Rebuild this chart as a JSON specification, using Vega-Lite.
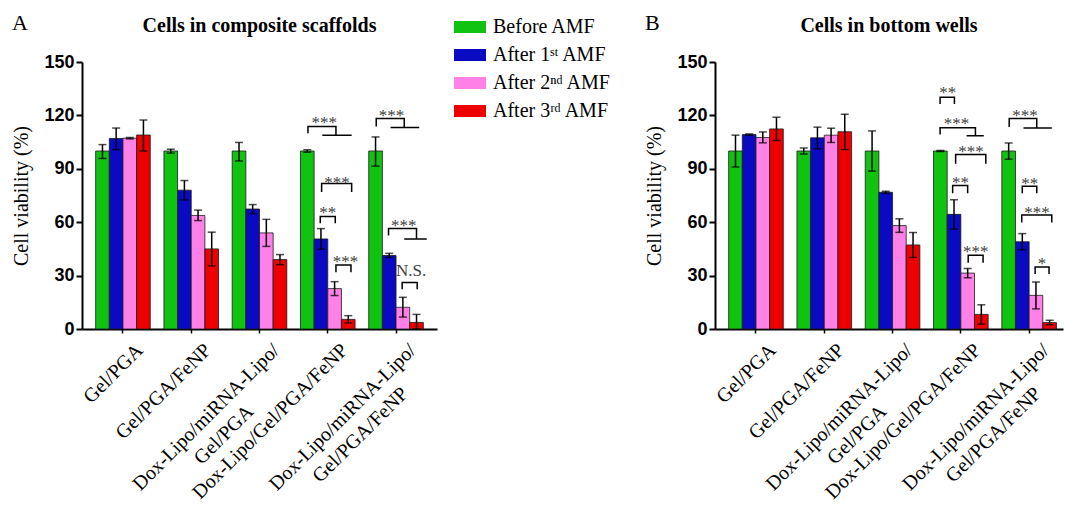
{
  "$schema": "https://vega.github.io/schema/vega-lite/v6.json",
  "padding": {"left": 11, "top": 11, "right": 0, "bottom": 0},
  "background": "white",
  "config": {
    "view": {"stroke": null},
    "font": "Liberation Serif",
    "scale": {"offsetBandPaddingInner": 0, "offsetBandPaddingOuter": 0},
    "axis": {"domainColor": "black", "tickColor": "black", "labelColor": "black", "titleColor": "black", "grid": false}
  },
  "datasets": {
    "barsA": [
      {"grp": "Gel/PGA", "cond": "Before AMF", "v": 100, "lo": 95.8, "hi": 103.6},
      {"grp": "Gel/PGA", "cond": "After 1ˢᵗ AMF", "v": 107, "lo": 100.8, "hi": 112.9},
      {"grp": "Gel/PGA", "cond": "After 2ⁿᵈ AMF", "v": 107.2, "lo": 106.8, "hi": 107.6},
      {"grp": "Gel/PGA", "cond": "After 3ʳᵈ AMF", "v": 109, "lo": 100, "hi": 117.4},
      {"grp": "Gel/PGA/FeNP", "cond": "Before AMF", "v": 100, "lo": 98.8, "hi": 101},
      {"grp": "Gel/PGA/FeNP", "cond": "After 1ˢᵗ AMF", "v": 78, "lo": 72.5, "hi": 83.4},
      {"grp": "Gel/PGA/FeNP", "cond": "After 2ⁿᵈ AMF", "v": 63.8, "lo": 60.9, "hi": 66.8},
      {"grp": "Gel/PGA/FeNP", "cond": "After 3ʳᵈ AMF", "v": 45, "lo": 35.4, "hi": 54.4},
      {"grp": "Dox-Lipo/miRNA-Lipo/|Gel/PGA", "cond": "Before AMF", "v": 100, "lo": 94.4, "hi": 104.8},
      {"grp": "Dox-Lipo/miRNA-Lipo/|Gel/PGA", "cond": "After 1ˢᵗ AMF", "v": 67.4, "lo": 64.8, "hi": 69.9},
      {"grp": "Dox-Lipo/miRNA-Lipo/|Gel/PGA", "cond": "After 2ⁿᵈ AMF", "v": 54, "lo": 46.4, "hi": 61.6},
      {"grp": "Dox-Lipo/miRNA-Lipo/|Gel/PGA", "cond": "After 3ʳᵈ AMF", "v": 39, "lo": 36.1, "hi": 41.8},
      {"grp": "Dox-Lipo/Gel/PGA/FeNP", "cond": "Before AMF", "v": 100, "lo": 99.3, "hi": 100.7},
      {"grp": "Dox-Lipo/Gel/PGA/FeNP", "cond": "After 1ˢᵗ AMF", "v": 50.6, "lo": 44.8, "hi": 56.4},
      {"grp": "Dox-Lipo/Gel/PGA/FeNP", "cond": "After 2ⁿᵈ AMF", "v": 22.7, "lo": 18.8, "hi": 26.6},
      {"grp": "Dox-Lipo/Gel/PGA/FeNP", "cond": "After 3ʳᵈ AMF", "v": 5.4, "lo": 3.4, "hi": 7.5},
      {"grp": "Dox-Lipo/miRNA-Lipo/|Gel/PGA/FeNP", "cond": "Before AMF", "v": 100, "lo": 91.5, "hi": 107.9},
      {"grp": "Dox-Lipo/miRNA-Lipo/|Gel/PGA/FeNP", "cond": "After 1ˢᵗ AMF", "v": 41.3, "lo": 40.2, "hi": 42.5},
      {"grp": "Dox-Lipo/miRNA-Lipo/|Gel/PGA/FeNP", "cond": "After 2ⁿᵈ AMF", "v": 12.2, "lo": 6.7, "hi": 17.8},
      {"grp": "Dox-Lipo/miRNA-Lipo/|Gel/PGA/FeNP", "cond": "After 3ʳᵈ AMF", "v": 3.7, "lo": 0, "hi": 8.2}
    ],
    "barsB": [
      {"grp": "Gel/PGA", "cond": "Before AMF", "v": 100, "lo": 91, "hi": 108.9},
      {"grp": "Gel/PGA", "cond": "After 1ˢᵗ AMF", "v": 109.2, "lo": 108.8, "hi": 109.6},
      {"grp": "Gel/PGA", "cond": "After 2ⁿᵈ AMF", "v": 107.6, "lo": 104.6, "hi": 110.7},
      {"grp": "Gel/PGA", "cond": "After 3ʳᵈ AMF", "v": 112.4, "lo": 105.9, "hi": 118.9},
      {"grp": "Gel/PGA/FeNP", "cond": "Before AMF", "v": 100, "lo": 98.3, "hi": 101.7},
      {"grp": "Gel/PGA/FeNP", "cond": "After 1ˢᵗ AMF", "v": 107.4, "lo": 101.2, "hi": 113.4},
      {"grp": "Gel/PGA/FeNP", "cond": "After 2ⁿᵈ AMF", "v": 108.9, "lo": 104.8, "hi": 112.8},
      {"grp": "Gel/PGA/FeNP", "cond": "After 3ʳᵈ AMF", "v": 110.8, "lo": 100.9, "hi": 120.6},
      {"grp": "Dox-Lipo/miRNA-Lipo/|Gel/PGA", "cond": "Before AMF", "v": 100, "lo": 88.7, "hi": 111.3},
      {"grp": "Dox-Lipo/miRNA-Lipo/|Gel/PGA", "cond": "After 1ˢᵗ AMF", "v": 76.8, "lo": 76.2, "hi": 77.4},
      {"grp": "Dox-Lipo/miRNA-Lipo/|Gel/PGA", "cond": "After 2ⁿᵈ AMF", "v": 58.1, "lo": 54.3, "hi": 61.9},
      {"grp": "Dox-Lipo/miRNA-Lipo/|Gel/PGA", "cond": "After 3ʳᵈ AMF", "v": 47.2, "lo": 40.2, "hi": 54.2},
      {"grp": "Dox-Lipo/Gel/PGA/FeNP", "cond": "Before AMF", "v": 100, "lo": 99.7, "hi": 100.3},
      {"grp": "Dox-Lipo/Gel/PGA/FeNP", "cond": "After 1ˢᵗ AMF", "v": 64.4, "lo": 56.1, "hi": 72.6},
      {"grp": "Dox-Lipo/Gel/PGA/FeNP", "cond": "After 2ⁿᵈ AMF", "v": 31.4, "lo": 28.8, "hi": 34},
      {"grp": "Dox-Lipo/Gel/PGA/FeNP", "cond": "After 3ʳᵈ AMF", "v": 8.2, "lo": 2.7, "hi": 13.6},
      {"grp": "Dox-Lipo/miRNA-Lipo/|Gel/PGA/FeNP", "cond": "Before AMF", "v": 100, "lo": 95.4, "hi": 104.5},
      {"grp": "Dox-Lipo/miRNA-Lipo/|Gel/PGA/FeNP", "cond": "After 1ˢᵗ AMF", "v": 49, "lo": 44.5, "hi": 53.6},
      {"grp": "Dox-Lipo/miRNA-Lipo/|Gel/PGA/FeNP", "cond": "After 2ⁿᵈ AMF", "v": 18.9, "lo": 11.3, "hi": 26.4},
      {"grp": "Dox-Lipo/miRNA-Lipo/|Gel/PGA/FeNP", "cond": "After 3ʳᵈ AMF", "v": 3.6, "lo": 2.4, "hi": 4.9}
    ],
    "brA": [
      {"id": "a4a", "grp": "Dox-Lipo/Gel/PGA/FeNP", "pos": 0.55, "y": 110, "k": 0},
      {"id": "a4a", "grp": "Dox-Lipo/Gel/PGA/FeNP", "pos": 0.55, "y": 113.8, "k": 1},
      {"id": "a4a", "grp": "Dox-Lipo/Gel/PGA/FeNP", "pos": 2.6, "y": 113.8, "k": 2},
      {"id": "a4a", "grp": "Dox-Lipo/Gel/PGA/FeNP", "pos": 2.6, "y": 108.8, "k": 3},
      {"id": "a4a", "grp": "Dox-Lipo/Gel/PGA/FeNP", "pos": 1.6, "y": 108.8, "k": 4},
      {"id": "a4a", "grp": "Dox-Lipo/Gel/PGA/FeNP", "pos": 3.75, "y": 108.8, "k": 5},
      {"id": "a4b", "grp": "Dox-Lipo/Gel/PGA/FeNP", "pos": 1.55, "y": 76.9, "k": 0},
      {"id": "a4b", "grp": "Dox-Lipo/Gel/PGA/FeNP", "pos": 1.55, "y": 81.8, "k": 1},
      {"id": "a4b", "grp": "Dox-Lipo/Gel/PGA/FeNP", "pos": 3.75, "y": 81.8, "k": 2},
      {"id": "a4b", "grp": "Dox-Lipo/Gel/PGA/FeNP", "pos": 3.75, "y": 76.9, "k": 3},
      {"id": "a4c", "grp": "Dox-Lipo/Gel/PGA/FeNP", "pos": 1.45, "y": 59.4, "k": 0},
      {"id": "a4c", "grp": "Dox-Lipo/Gel/PGA/FeNP", "pos": 1.45, "y": 63.2, "k": 1},
      {"id": "a4c", "grp": "Dox-Lipo/Gel/PGA/FeNP", "pos": 2.55, "y": 63.2, "k": 2},
      {"id": "a4c", "grp": "Dox-Lipo/Gel/PGA/FeNP", "pos": 2.55, "y": 59.4, "k": 3},
      {"id": "a4d", "grp": "Dox-Lipo/Gel/PGA/FeNP", "pos": 2.6, "y": 31.9, "k": 0},
      {"id": "a4d", "grp": "Dox-Lipo/Gel/PGA/FeNP", "pos": 2.6, "y": 36, "k": 1},
      {"id": "a4d", "grp": "Dox-Lipo/Gel/PGA/FeNP", "pos": 3.7, "y": 36, "k": 2},
      {"id": "a4d", "grp": "Dox-Lipo/Gel/PGA/FeNP", "pos": 3.7, "y": 31.9, "k": 3},
      {"id": "a5a", "grp": "Dox-Lipo/miRNA-Lipo/|Gel/PGA/FeNP", "pos": 0.55, "y": 113.8, "k": 0},
      {"id": "a5a", "grp": "Dox-Lipo/miRNA-Lipo/|Gel/PGA/FeNP", "pos": 0.55, "y": 118.3, "k": 1},
      {"id": "a5a", "grp": "Dox-Lipo/miRNA-Lipo/|Gel/PGA/FeNP", "pos": 2.6, "y": 118.3, "k": 2},
      {"id": "a5a", "grp": "Dox-Lipo/miRNA-Lipo/|Gel/PGA/FeNP", "pos": 2.6, "y": 113.2, "k": 3},
      {"id": "a5a", "grp": "Dox-Lipo/miRNA-Lipo/|Gel/PGA/FeNP", "pos": 1.6, "y": 113.2, "k": 4},
      {"id": "a5a", "grp": "Dox-Lipo/miRNA-Lipo/|Gel/PGA/FeNP", "pos": 3.7, "y": 113.2, "k": 5},
      {"id": "a5b", "grp": "Dox-Lipo/miRNA-Lipo/|Gel/PGA/FeNP", "pos": 1.45, "y": 52.5, "k": 0},
      {"id": "a5b", "grp": "Dox-Lipo/miRNA-Lipo/|Gel/PGA/FeNP", "pos": 1.45, "y": 56.4, "k": 1},
      {"id": "a5b", "grp": "Dox-Lipo/miRNA-Lipo/|Gel/PGA/FeNP", "pos": 3.5, "y": 56.4, "k": 2},
      {"id": "a5b", "grp": "Dox-Lipo/miRNA-Lipo/|Gel/PGA/FeNP", "pos": 3.5, "y": 50.6, "k": 3},
      {"id": "a5b", "grp": "Dox-Lipo/miRNA-Lipo/|Gel/PGA/FeNP", "pos": 2.6, "y": 50.6, "k": 4},
      {"id": "a5b", "grp": "Dox-Lipo/miRNA-Lipo/|Gel/PGA/FeNP", "pos": 4.25, "y": 50.6, "k": 5},
      {"id": "a5c", "grp": "Dox-Lipo/miRNA-Lipo/|Gel/PGA/FeNP", "pos": 2.45, "y": 22.3, "k": 0},
      {"id": "a5c", "grp": "Dox-Lipo/miRNA-Lipo/|Gel/PGA/FeNP", "pos": 2.45, "y": 26.1, "k": 1},
      {"id": "a5c", "grp": "Dox-Lipo/miRNA-Lipo/|Gel/PGA/FeNP", "pos": 3.55, "y": 26.1, "k": 2},
      {"id": "a5c", "grp": "Dox-Lipo/miRNA-Lipo/|Gel/PGA/FeNP", "pos": 3.55, "y": 22.3, "k": 3}
    ],
    "txA": [
      {"grp": "Dox-Lipo/Gel/PGA/FeNP", "pos": 1.75, "y": 117.2, "t": "***"},
      {"grp": "Dox-Lipo/Gel/PGA/FeNP", "pos": 2.68, "y": 83.8, "t": "***"},
      {"grp": "Dox-Lipo/Gel/PGA/FeNP", "pos": 2.0, "y": 66.9, "t": "**"},
      {"grp": "Dox-Lipo/Gel/PGA/FeNP", "pos": 3.3, "y": 39.4, "t": "***"},
      {"grp": "Dox-Lipo/miRNA-Lipo/|Gel/PGA/FeNP", "pos": 1.66, "y": 121.3, "t": "***"},
      {"grp": "Dox-Lipo/miRNA-Lipo/|Gel/PGA/FeNP", "pos": 2.56, "y": 59.4, "t": "***"},
      {"grp": "Dox-Lipo/miRNA-Lipo/|Gel/PGA/FeNP", "pos": 3.1, "y": 34.5, "t": "N.S."}
    ],
    "brB": [
      {"id": "b4a", "grp": "Dox-Lipo/Gel/PGA/FeNP", "pos": 0.48, "y": 126.4, "k": 0},
      {"id": "b4a", "grp": "Dox-Lipo/Gel/PGA/FeNP", "pos": 0.48, "y": 130.2, "k": 1},
      {"id": "b4a", "grp": "Dox-Lipo/Gel/PGA/FeNP", "pos": 1.53, "y": 130.2, "k": 2},
      {"id": "b4a", "grp": "Dox-Lipo/Gel/PGA/FeNP", "pos": 1.53, "y": 126.4, "k": 3},
      {"id": "b4b", "grp": "Dox-Lipo/Gel/PGA/FeNP", "pos": 0.48, "y": 109.2, "k": 0},
      {"id": "b4b", "grp": "Dox-Lipo/Gel/PGA/FeNP", "pos": 0.48, "y": 113, "k": 1},
      {"id": "b4b", "grp": "Dox-Lipo/Gel/PGA/FeNP", "pos": 3.07, "y": 113, "k": 2},
      {"id": "b4b", "grp": "Dox-Lipo/Gel/PGA/FeNP", "pos": 3.07, "y": 108.5, "k": 3},
      {"id": "b4b", "grp": "Dox-Lipo/Gel/PGA/FeNP", "pos": 2.42, "y": 108.5, "k": 4},
      {"id": "b4b", "grp": "Dox-Lipo/Gel/PGA/FeNP", "pos": 3.68, "y": 108.5, "k": 5},
      {"id": "b4c", "grp": "Dox-Lipo/Gel/PGA/FeNP", "pos": 1.62, "y": 92.8, "k": 0},
      {"id": "b4c", "grp": "Dox-Lipo/Gel/PGA/FeNP", "pos": 1.62, "y": 98.1, "k": 1},
      {"id": "b4c", "grp": "Dox-Lipo/Gel/PGA/FeNP", "pos": 3.83, "y": 98.1, "k": 2},
      {"id": "b4c", "grp": "Dox-Lipo/Gel/PGA/FeNP", "pos": 3.83, "y": 92.8, "k": 3},
      {"id": "b4d", "grp": "Dox-Lipo/Gel/PGA/FeNP", "pos": 1.4, "y": 76.2, "k": 0},
      {"id": "b4d", "grp": "Dox-Lipo/Gel/PGA/FeNP", "pos": 1.4, "y": 80.6, "k": 1},
      {"id": "b4d", "grp": "Dox-Lipo/Gel/PGA/FeNP", "pos": 2.5, "y": 80.6, "k": 2},
      {"id": "b4d", "grp": "Dox-Lipo/Gel/PGA/FeNP", "pos": 2.5, "y": 76.2, "k": 3},
      {"id": "b4e", "grp": "Dox-Lipo/Gel/PGA/FeNP", "pos": 2.54, "y": 37.2, "k": 0},
      {"id": "b4e", "grp": "Dox-Lipo/Gel/PGA/FeNP", "pos": 2.54, "y": 41.5, "k": 1},
      {"id": "b4e", "grp": "Dox-Lipo/Gel/PGA/FeNP", "pos": 3.63, "y": 41.5, "k": 2},
      {"id": "b4e", "grp": "Dox-Lipo/Gel/PGA/FeNP", "pos": 3.63, "y": 37.2, "k": 3},
      {"id": "b5a", "grp": "Dox-Lipo/miRNA-Lipo/|Gel/PGA/FeNP", "pos": 0.54, "y": 113.5, "k": 0},
      {"id": "b5a", "grp": "Dox-Lipo/miRNA-Lipo/|Gel/PGA/FeNP", "pos": 0.54, "y": 118.2, "k": 1},
      {"id": "b5a", "grp": "Dox-Lipo/miRNA-Lipo/|Gel/PGA/FeNP", "pos": 2.56, "y": 118.2, "k": 2},
      {"id": "b5a", "grp": "Dox-Lipo/miRNA-Lipo/|Gel/PGA/FeNP", "pos": 2.56, "y": 112.9, "k": 3},
      {"id": "b5a", "grp": "Dox-Lipo/miRNA-Lipo/|Gel/PGA/FeNP", "pos": 1.59, "y": 112.9, "k": 4},
      {"id": "b5a", "grp": "Dox-Lipo/miRNA-Lipo/|Gel/PGA/FeNP", "pos": 3.66, "y": 112.9, "k": 5},
      {"id": "b5b", "grp": "Dox-Lipo/miRNA-Lipo/|Gel/PGA/FeNP", "pos": 1.5, "y": 76.2, "k": 0},
      {"id": "b5b", "grp": "Dox-Lipo/miRNA-Lipo/|Gel/PGA/FeNP", "pos": 1.5, "y": 80.2, "k": 1},
      {"id": "b5b", "grp": "Dox-Lipo/miRNA-Lipo/|Gel/PGA/FeNP", "pos": 2.56, "y": 80.2, "k": 2},
      {"id": "b5b", "grp": "Dox-Lipo/miRNA-Lipo/|Gel/PGA/FeNP", "pos": 2.56, "y": 76.2, "k": 3},
      {"id": "b5c", "grp": "Dox-Lipo/miRNA-Lipo/|Gel/PGA/FeNP", "pos": 1.46, "y": 59.8, "k": 0},
      {"id": "b5c", "grp": "Dox-Lipo/miRNA-Lipo/|Gel/PGA/FeNP", "pos": 1.46, "y": 64, "k": 1},
      {"id": "b5c", "grp": "Dox-Lipo/miRNA-Lipo/|Gel/PGA/FeNP", "pos": 3.66, "y": 64, "k": 2},
      {"id": "b5c", "grp": "Dox-Lipo/miRNA-Lipo/|Gel/PGA/FeNP", "pos": 3.66, "y": 59.8, "k": 3},
      {"id": "b5d", "grp": "Dox-Lipo/miRNA-Lipo/|Gel/PGA/FeNP", "pos": 2.44, "y": 30.9, "k": 0},
      {"id": "b5d", "grp": "Dox-Lipo/miRNA-Lipo/|Gel/PGA/FeNP", "pos": 2.44, "y": 34.9, "k": 1},
      {"id": "b5d", "grp": "Dox-Lipo/miRNA-Lipo/|Gel/PGA/FeNP", "pos": 3.46, "y": 34.9, "k": 2},
      {"id": "b5d", "grp": "Dox-Lipo/miRNA-Lipo/|Gel/PGA/FeNP", "pos": 3.46, "y": 30.9, "k": 3}
    ],
    "txB": [
      {"grp": "Dox-Lipo/Gel/PGA/FeNP", "pos": 1.05, "y": 134, "t": "**"},
      {"grp": "Dox-Lipo/Gel/PGA/FeNP", "pos": 1.69, "y": 117, "t": "***"},
      {"grp": "Dox-Lipo/Gel/PGA/FeNP", "pos": 2.74, "y": 101, "t": "***"},
      {"grp": "Dox-Lipo/Gel/PGA/FeNP", "pos": 1.98, "y": 83.8, "t": "**"},
      {"grp": "Dox-Lipo/Gel/PGA/FeNP", "pos": 3.1, "y": 44.7, "t": "***"},
      {"grp": "Dox-Lipo/miRNA-Lipo/|Gel/PGA/FeNP", "pos": 1.7, "y": 121.5, "t": "***"},
      {"grp": "Dox-Lipo/miRNA-Lipo/|Gel/PGA/FeNP", "pos": 2.05, "y": 83.4, "t": "**"},
      {"grp": "Dox-Lipo/miRNA-Lipo/|Gel/PGA/FeNP", "pos": 2.58, "y": 67, "t": "***"},
      {"grp": "Dox-Lipo/miRNA-Lipo/|Gel/PGA/FeNP", "pos": 2.95, "y": 38.1, "t": "*"}
    ]
  },
  "spacing": 207,
  "hconcat": [
    {
      "title": {"text": "A", "anchor": "start", "font": "Liberation Serif", "fontSize": 22, "fontWeight": "normal", "color": "black", "offset": -36, "baseline": "alphabetic"},
      "vconcat": [
        {
          "width": 355,
          "height": 267,
          "title": {"text": "Cells in composite scaffolds", "font": "Liberation Serif", "fontSize": 20, "fontWeight": "bold", "color": "black", "offset": 17},
          "layer": [
            {
              "data": {"name": "barsA"},
              "mark": {"type": "bar", "stroke": "#1a1a1a", "strokeWidth": 0.8},
              "encoding": {
                "x": {"field": "grp", "type": "nominal", "sort": null,
                  "scale": {"domain": ["Gel/PGA", "Gel/PGA/FeNP", "Dox-Lipo/miRNA-Lipo/|Gel/PGA", "Dox-Lipo/Gel/PGA/FeNP", "Dox-Lipo/miRNA-Lipo/|Gel/PGA/FeNP"], "paddingInner": 0.2, "paddingOuter": 0.2},
                  "axis": {"title": null, "domainWidth": 2, "tickWidth": 1.5, "tickSize": 4, "labelAngle": -45,
                    "labelExpr": "split(datum.value, '|')",
                    "labelAlign": {"condition": {"test": "indexof(datum.value, '|') >= 0", "value": "center"}, "value": "right"},
                    "labelOffset": {"condition": {"test": "indexof(datum.value, '|') >= 0", "value": -49}, "value": 21},
                    "labelPadding": {"condition": {"test": "indexof(datum.value, '|') >= 0", "value": 88}, "value": 18},
                    "labelBaseline": "alphabetic", "labelFont": "Liberation Serif", "labelFontSize": 20, "labelLineHeight": 25, "labelLimit": 400, "labelOverlap": false}},
                "xOffset": {"field": "cond", "type": "nominal", "sort": null},
                "y": {"field": "v", "type": "quantitative", "scale": {"domain": [0, 150], "nice": false},
                  "axis": {"values": [0, 30, 60, 90, 120, 150], "title": "Cell viability (%)", "titleFont": "Liberation Serif", "titleFontSize": 20, "titleFontWeight": "normal", "titlePadding": 12,
                    "labelFont": "Liberation Sans", "labelFontWeight": "bold", "labelFontSize": 18, "labelPadding": 2, "tickSize": 6, "tickWidth": 2, "domainWidth": 2}},
                "color": {"field": "cond", "type": "nominal",
                  "scale": {"domain": ["Before AMF", "After 1ˢᵗ AMF", "After 2ⁿᵈ AMF", "After 3ʳᵈ AMF"], "range": ["#10C310", "#0A0AC2", "#FF80E6", "#EE0000"]},
                  "legend": {"orient": "none", "legendX": 372, "legendY": -51, "title": null, "labelFont": "Liberation Serif", "labelFontSize": 20, "labelColor": "black", "symbolType": "M-1,-0.375H1V0.375H-1Z", "symbolSize": 1024, "symbolStrokeWidth": 0, "symbolOpacity": 1, "rowPadding": 2, "labelOffset": 7}}
              }
            },
            {
              "data": {"name": "barsA"},
              "mark": {"type": "rule", "color": "black", "strokeWidth": 1.5},
              "encoding": {
                "x": {"field": "grp", "type": "nominal", "sort": null},
                "xOffset": {"field": "cond", "type": "nominal", "sort": null},
                "y": {"field": "lo", "type": "quantitative"},
                "y2": {"field": "hi"}
              }
            },
            {
              "data": {"name": "barsA"},
              "mark": {"type": "tick", "color": "black", "thickness": 1.5, "size": 8},
              "encoding": {
                "x": {"field": "grp", "type": "nominal", "sort": null},
                "xOffset": {"field": "cond", "type": "nominal", "sort": null},
                "y": {"field": "lo", "type": "quantitative"}
              }
            },
            {
              "data": {"name": "barsA"},
              "mark": {"type": "tick", "color": "black", "thickness": 1.5, "size": 8},
              "encoding": {
                "x": {"field": "grp", "type": "nominal", "sort": null},
                "xOffset": {"field": "cond", "type": "nominal", "sort": null},
                "y": {"field": "hi", "type": "quantitative"}
              }
            },
            {
              "data": {"name": "brA"},
              "mark": {"type": "line", "color": "black", "strokeWidth": 1.5},
              "encoding": {
                "x": {"field": "grp", "type": "nominal", "sort": null},
                "xOffset": {"field": "pos", "type": "quantitative", "scale": {"domain": [0, 4], "range": [0, 54.6]}},
                "y": {"field": "y", "type": "quantitative"},
                "detail": {"field": "id"},
                "order": {"field": "k"}
              }
            },
            {
              "data": {"name": "txA"},
              "mark": {"type": "text", "font": "Liberation Serif", "fontSize": 17, "color": "#404040", "baseline": "middle", "dy": 3},
              "encoding": {
                "x": {"field": "grp", "type": "nominal", "sort": null},
                "xOffset": {"field": "pos", "type": "quantitative", "scale": {"domain": [0, 4], "range": [0, 54.6]}},
                "y": {"field": "y", "type": "quantitative"},
                "text": {"field": "t"}
              }
            }
          ],
          "resolve": {"scale": {"xOffset": "independent"}}
        }
      ]
    },
    {
      "title": {"text": "B", "anchor": "start", "font": "Liberation Serif", "fontSize": 22, "fontWeight": "normal", "color": "black", "offset": -36, "baseline": "alphabetic"},
      "vconcat": [
        {
          "width": 348,
          "height": 267,
          "title": {"text": "Cells in bottom wells", "font": "Liberation Serif", "fontSize": 20, "fontWeight": "bold", "color": "black", "offset": 17},
          "layer": [
            {
              "data": {"name": "barsB"},
              "mark": {"type": "bar", "stroke": "#1a1a1a", "strokeWidth": 0.8},
              "encoding": {
                "x": {"field": "grp", "type": "nominal", "sort": null,
                  "scale": {"domain": ["Gel/PGA", "Gel/PGA/FeNP", "Dox-Lipo/miRNA-Lipo/|Gel/PGA", "Dox-Lipo/Gel/PGA/FeNP", "Dox-Lipo/miRNA-Lipo/|Gel/PGA/FeNP"], "paddingInner": 0.2, "paddingOuter": 0.148, "align": 0.676},
                  "axis": {"title": null, "domainWidth": 2, "tickWidth": 1.5, "tickSize": 4, "labelAngle": -45,
                    "labelExpr": "split(datum.value, '|')",
                    "labelAlign": {"condition": {"test": "indexof(datum.value, '|') >= 0", "value": "center"}, "value": "right"},
                    "labelOffset": {"condition": {"test": "indexof(datum.value, '|') >= 0", "value": -49}, "value": 21},
                    "labelPadding": {"condition": {"test": "indexof(datum.value, '|') >= 0", "value": 88}, "value": 18},
                    "labelBaseline": "alphabetic", "labelFont": "Liberation Serif", "labelFontSize": 20, "labelLineHeight": 25, "labelLimit": 400, "labelOverlap": false}},
                "xOffset": {"field": "cond", "type": "nominal", "sort": null},
                "y": {"field": "v", "type": "quantitative", "scale": {"domain": [0, 150], "nice": false},
                  "axis": {"values": [0, 30, 60, 90, 120, 150], "title": "Cell viability (%)", "titleFont": "Liberation Serif", "titleFontSize": 20, "titleFontWeight": "normal", "titlePadding": 12,
                    "labelFont": "Liberation Sans", "labelFontWeight": "bold", "labelFontSize": 18, "labelPadding": 2, "tickSize": 6, "tickWidth": 2, "domainWidth": 2}},
                "color": {"field": "cond", "type": "nominal"}
              }
            },
            {
              "data": {"name": "barsB"},
              "mark": {"type": "rule", "color": "black", "strokeWidth": 1.5},
              "encoding": {
                "x": {"field": "grp", "type": "nominal", "sort": null},
                "xOffset": {"field": "cond", "type": "nominal", "sort": null},
                "y": {"field": "lo", "type": "quantitative"},
                "y2": {"field": "hi"}
              }
            },
            {
              "data": {"name": "barsB"},
              "mark": {"type": "tick", "color": "black", "thickness": 1.5, "size": 8},
              "encoding": {
                "x": {"field": "grp", "type": "nominal", "sort": null},
                "xOffset": {"field": "cond", "type": "nominal", "sort": null},
                "y": {"field": "lo", "type": "quantitative"}
              }
            },
            {
              "data": {"name": "barsB"},
              "mark": {"type": "tick", "color": "black", "thickness": 1.5, "size": 8},
              "encoding": {
                "x": {"field": "grp", "type": "nominal", "sort": null},
                "xOffset": {"field": "cond", "type": "nominal", "sort": null},
                "y": {"field": "hi", "type": "quantitative"}
              }
            },
            {
              "data": {"name": "brB"},
              "mark": {"type": "line", "color": "black", "strokeWidth": 1.5},
              "encoding": {
                "x": {"field": "grp", "type": "nominal", "sort": null},
                "xOffset": {"field": "pos", "type": "quantitative", "scale": {"domain": [0, 4], "range": [0, 54.6]}},
                "y": {"field": "y", "type": "quantitative"},
                "detail": {"field": "id"},
                "order": {"field": "k"}
              }
            },
            {
              "data": {"name": "txB"},
              "mark": {"type": "text", "font": "Liberation Serif", "fontSize": 17, "color": "#404040", "baseline": "middle", "dy": 3},
              "encoding": {
                "x": {"field": "grp", "type": "nominal", "sort": null},
                "xOffset": {"field": "pos", "type": "quantitative", "scale": {"domain": [0, 4], "range": [0, 54.6]}},
                "y": {"field": "y", "type": "quantitative"},
                "text": {"field": "t"}
              }
            }
          ],
          "resolve": {"scale": {"xOffset": "independent"}}
        }
      ]
    }
  ]
}
